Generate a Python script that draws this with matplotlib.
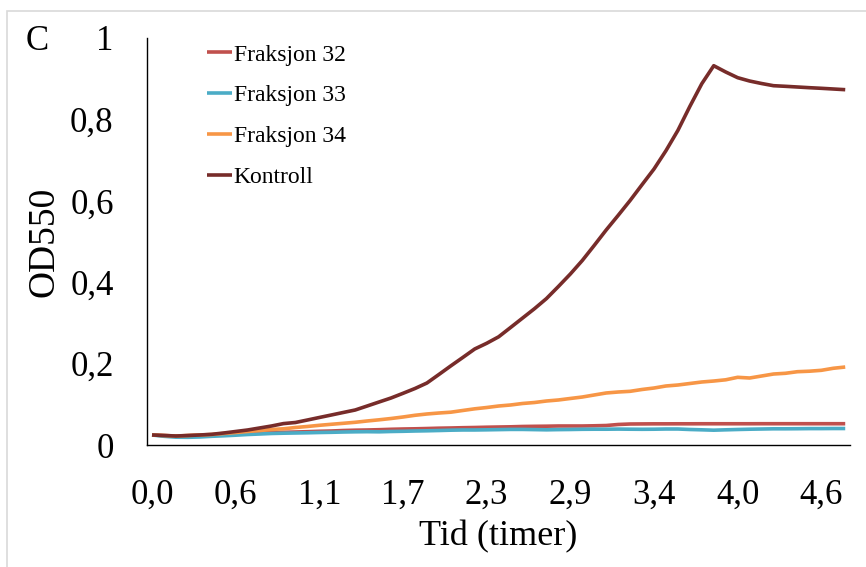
import matplotlib
matplotlib.use("Agg")
import matplotlib.pyplot as plt
from matplotlib.patches import Rectangle

plt.rcParams['font.family'] = ['Liberation Serif', 'DejaVu Serif']

# Sampling times (hours)
tid = [0.000, 0.082, 0.163, 0.245, 0.327, 0.408, 0.490, 0.572, 0.653, 0.735,
       0.817, 0.898, 0.980, 1.062, 1.143, 1.225, 1.307, 1.388, 1.470, 1.552,
       1.633, 1.715, 1.797, 1.878, 1.960, 2.042, 2.123, 2.205, 2.287, 2.368,
       2.450, 2.532, 2.613, 2.695, 2.777, 2.858, 2.940, 3.022, 3.103, 3.185,
       3.267, 3.348, 3.430, 3.512, 3.593, 3.675, 3.757, 3.838, 3.920, 4.002,
       4.083, 4.165, 4.247, 4.328, 4.410, 4.492, 4.573, 4.655, 4.737]

fraksjon_32 = [0.0246, 0.0233, 0.0221, 0.0229, 0.0238, 0.0246, 0.0258, 0.0270, 0.0283, 0.0295,
               0.0302, 0.0312, 0.0319, 0.0327, 0.0337, 0.0344, 0.0356, 0.0364, 0.0369, 0.0376,
               0.0386, 0.0393, 0.0398, 0.0405, 0.0413, 0.0418, 0.0425, 0.0430, 0.0437, 0.0442,
               0.0447, 0.0455, 0.0459, 0.0462, 0.0467, 0.0467, 0.0467, 0.0472, 0.0479, 0.0504,
               0.0516, 0.0518, 0.0520, 0.0520, 0.0521, 0.0521, 0.0522, 0.0522, 0.0522, 0.0522,
               0.0522, 0.0523, 0.0523, 0.0523, 0.0523, 0.0523, 0.0523, 0.0523, 0.0523]

fraksjon_33 = [0.0246, 0.0214, 0.0192, 0.0189, 0.0197, 0.0214, 0.0226, 0.0241, 0.0258, 0.0270,
               0.0283, 0.0290, 0.0295, 0.0300, 0.0307, 0.0312, 0.0319, 0.0324, 0.0327, 0.0324,
               0.0332, 0.0337, 0.0344, 0.0349, 0.0356, 0.0364, 0.0369, 0.0369, 0.0373, 0.0378,
               0.0383, 0.0383, 0.0378, 0.0373, 0.0378, 0.0381, 0.0386, 0.0388, 0.0388, 0.0391,
               0.0388, 0.0386, 0.0388, 0.0393, 0.0393, 0.0381, 0.0373, 0.0364, 0.0373, 0.0381,
               0.0388, 0.0393, 0.0398, 0.0398, 0.0400, 0.0403, 0.0403, 0.0405, 0.0405]

fraksjon_34 = [0.0246, 0.0233, 0.0221, 0.0233, 0.0246, 0.0258, 0.0283, 0.0307, 0.0332, 0.0356,
               0.0381, 0.0398, 0.0430, 0.0455, 0.0484, 0.0509, 0.0533, 0.0558, 0.0590, 0.0619,
               0.0651, 0.0688, 0.0730, 0.0762, 0.0786, 0.0806, 0.0848, 0.0889, 0.0921, 0.0958,
               0.0983, 0.1020, 0.1044, 0.1081, 0.1106, 0.1143, 0.1179, 0.1229, 0.1278, 0.1302,
               0.1319, 0.1364, 0.1400, 0.1450, 0.1474, 0.1511, 0.1548, 0.1572, 0.1602, 0.1663,
               0.1646, 0.1695, 0.1744, 0.1762, 0.1801, 0.1813, 0.1835, 0.1885, 0.1916]

kontroll = [0.0246, 0.0233, 0.0221, 0.0233, 0.0246, 0.0263, 0.0295, 0.0332, 0.0369, 0.0418,
            0.0467, 0.0526, 0.0553, 0.0614, 0.0676, 0.0737, 0.0799, 0.0860, 0.0958, 0.1057,
            0.1155, 0.1270, 0.1388, 0.1523, 0.1732, 0.1944, 0.2150, 0.2359, 0.2499, 0.2658,
            0.2887, 0.3118, 0.3349, 0.3597, 0.3894, 0.4201, 0.4533, 0.4904, 0.5283, 0.5641,
            0.6007, 0.6396, 0.6781, 0.7231, 0.7730, 0.8319, 0.8877, 0.9319, 0.9165, 0.9025,
            0.8943, 0.8882, 0.8828, 0.8813, 0.8796, 0.8779, 0.8764, 0.8747, 0.8730]

series = [
    ("Fraksjon 32", fraksjon_32, "#C0504D"),
    ("Fraksjon 33", fraksjon_33, "#4BACC6"),
    ("Fraksjon 34", fraksjon_34, "#F79646"),
    ("Kontroll", kontroll, "#772C2A"),
]

y_ticks = [0, 0.2, 0.4, 0.6, 0.8, 1.0]
x_tick_step = 7

fig = plt.figure(figsize=(8.66, 5.67), dpi=100)
fig.patch.set_facecolor("white")

# light frame around the panel
fig.patches.append(Rectangle((7 / 866, -0.05), 1.2, 1 - 11 / 567 + 0.05,
                             transform=fig.transFigure, fill=False,
                             edgecolor="#D9D9D9", linewidth=1.2))

ax = fig.add_axes([147 / 866, 1 - 445 / 567, 703 / 866, 407 / 567])

idx = list(range(len(tid)))
for name, vals, col in series:
    ax.plot(idx, vals, color=col, linewidth=2.6, label=name,
            solid_joinstyle="round", solid_capstyle="butt")

ax.set_xlim(-0.42, len(tid) - 1 + 0.4)
ax.set_ylim(0, 1)

tick_pos = idx[::x_tick_step]
ax.set_xticks(tick_pos)
ax.set_xticklabels([f"{tid[i]:.1f}".replace(".", ",") for i in tick_pos])
ax.set_yticks(y_ticks)
ax.set_yticklabels(["0" if v == 0 else ("1" if v == 1 else f"{v:.1f}".replace(".", ","))
                    for v in y_ticks])

ax.tick_params(axis="both", length=0, labelsize=25, colors="black")
ax.tick_params(axis="y", pad=24)
ax.tick_params(axis="x", pad=24)

for s in ("top", "right"):
    ax.spines[s].set_visible(False)
for s in ("left", "bottom"):
    ax.spines[s].set_color("black")
    ax.spines[s].set_linewidth(1.0)

ax.set_xlabel("Tid (timer)", fontsize=26)
ax.xaxis.set_label_coords(0.5, -0.185)
ax.set_ylabel("OD550", fontsize=27)
ax.yaxis.set_label_coords(-0.122, 0.5)

fig.text(37 / 866, 1 - 42 / 567, "C", fontsize=25, ha="center", va="center")

leg = ax.legend(loc="upper left", bbox_to_anchor=(207 / 866, 1 - 44 / 567),
                bbox_transform=fig.transFigure, frameon=False, fontsize=17,
                handlelength=1.05, handletextpad=0.08, labelspacing=0.82,
                borderpad=0, borderaxespad=0)

fig.savefig("out.png", dpi=100, facecolor="white")
